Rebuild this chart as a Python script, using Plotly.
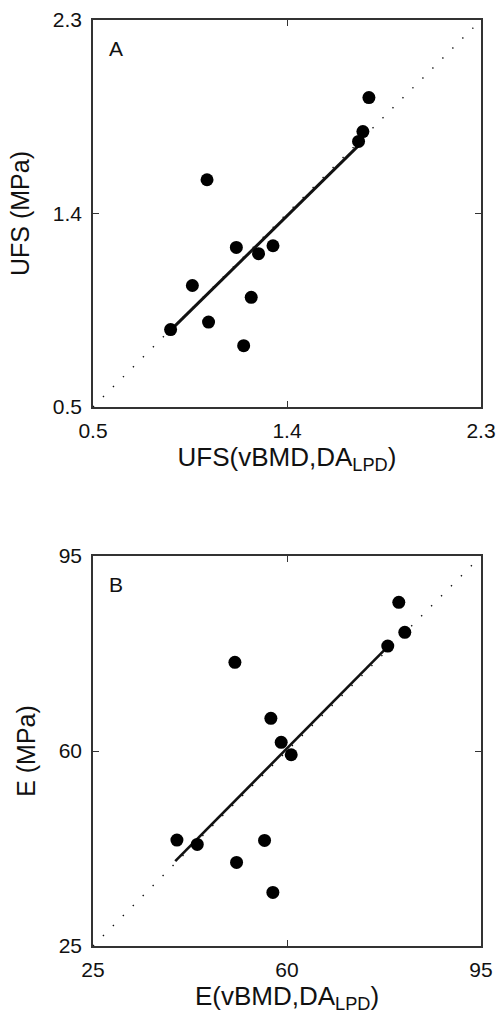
import plotly.graph_objects as go

# Panel A data (UFS, MPa)
a_pred = [1.780, 1.752, 1.732, 1.029, 1.165, 1.335, 1.268, 0.961, 1.234, 1.036, 0.860, 1.199]
a_meas = [1.939, 1.781, 1.735, 1.557, 1.242, 1.250, 1.213, 1.065, 1.010, 0.895, 0.860, 0.785]
a_fit_x = [0.871, 1.728]
a_fit_y = [0.868, 1.712]
a_range = [0.5, 2.3]
a_ticks = [0.5, 1.4, 2.3]

# Panel B data (E, MPa)
b_pred = [80.17, 81.25, 78.18, 50.60, 57.09, 58.95, 60.76, 40.14, 43.81, 55.95, 50.90, 57.45]
b_meas = [86.68, 81.30, 78.84, 75.91, 65.86, 61.55, 59.33, 44.01, 43.24, 43.95, 40.00, 34.62]
b_fit_x = [39.84, 78.18]
b_fit_y = [40.24, 78.72]
b_range = [25, 95]
b_ticks = [25, 60, 95]

FONT = "Liberation Sans, Arial, sans-serif"
INK = "#111111"

fig = go.Figure()

def add_panel(xr, yr, px, py, fx, fy, xa, ya, lw):
    fig.add_trace(go.Scatter(x=xr, y=xr, mode="lines",
                             line=dict(color=INK, width=1.4, dash="1.4px,12.7px"),
                             xaxis=xa, yaxis=ya, showlegend=False, hoverinfo="skip"))
    fig.add_trace(go.Scatter(x=fx, y=fy, mode="lines",
                             line=dict(color=INK, width=lw),
                             xaxis=xa, yaxis=ya, showlegend=False))
    fig.add_trace(go.Scatter(x=px, y=py, mode="markers",
                             marker=dict(color="black", size=13, line=dict(width=0)),
                             xaxis=xa, yaxis=ya, showlegend=False))

add_panel(a_range, a_range, a_pred, a_meas, a_fit_x, a_fit_y, "x", "y", 3)
add_panel(b_range, b_range, b_pred, b_meas, b_fit_x, b_fit_y, "x2", "y2", 2.6)

def axis_common(rng, ticks, title, standoff, tls, tsize):
    return dict(range=rng, tickvals=ticks, ticktext=[f"{t:g}" for t in ticks],
                automargin=False,
                showline=True, mirror="ticks", linecolor="#333333", linewidth=1.5,
                ticks="inside", ticklen=6, tickwidth=1.3, tickcolor="#333333",
                ticklabelstandoff=tls,
                showgrid=False, zeroline=False,
                tickfont=dict(family=FONT, size=21, color=INK),
                title=dict(text=title, font=dict(family=FONT, size=tsize, color=INK),
                           standoff=standoff),
                fixedrange=True)

xd = [93/498, 481/498]
fig.update_layout(
    width=498, height=1021,
    margin=dict(l=0, r=0, t=0, b=0),
    paper_bgcolor="white", plot_bgcolor="white",
    xaxis=dict(domain=xd, anchor="y", **axis_common(a_range, a_ticks, "UFS(vBMD,DA<sub>LPD</sub>)", 4, 4, 26)),
    yaxis=dict(domain=[1-407/1021, 1-20/1021], anchor="x", **axis_common(a_range, a_ticks, "UFS (MPa)", 16, 5, 25)),
    xaxis2=dict(domain=xd, anchor="y2", **axis_common(b_range, b_ticks, "E(vBMD,DA<sub>LPD</sub>)", 4, 4, 26)),
    yaxis2=dict(domain=[1-946/1021, 1-556/1021], anchor="x2", **axis_common(b_range, b_ticks, "E (MPa)", 16, 5, 25)),
    annotations=[
        dict(text="A", x=0.037, y=0.962, xref="x domain", yref="y domain", showarrow=False,
             xanchor="left", yanchor="top", font=dict(family=FONT, size=21, color=INK)),
        dict(text="B", x=0.037, y=0.962, xref="x2 domain", yref="y2 domain", showarrow=False,
             xanchor="left", yanchor="top", font=dict(family=FONT, size=21, color=INK)),
    ],
)

fig.write_html("out.html")
